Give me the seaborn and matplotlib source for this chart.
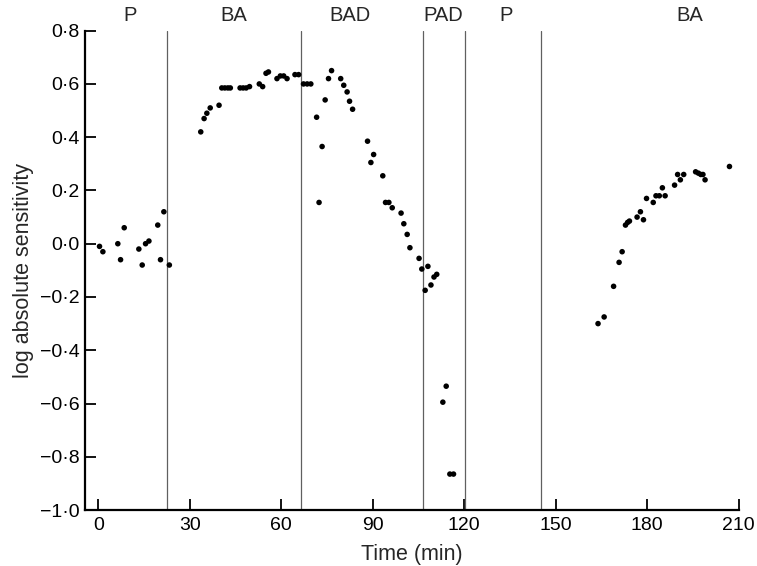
import numpy as np
import pandas as pd
import matplotlib
matplotlib.use("Agg")
import matplotlib.pyplot as plt
from matplotlib.ticker import FuncFormatter
import seaborn as sns

# Data
time_min = [0.4, 1.5, 6.4, 7.3, 8.5, 13.3, 14.4, 15.5, 16.6, 19.5, 20.4, 21.5, 23.3,
            33.6, 34.7, 35.6, 36.7, 39.6, 40.5, 41.5, 42.5, 43.3, 46.5, 47.5, 48.5, 49.6,
            52.8, 53.9, 55.0, 55.8, 58.6, 59.7, 60.8, 61.9, 64.5, 65.7,
            67.3, 68.5, 69.7, 71.6, 72.4, 73.4, 74.4, 75.5, 76.5, 79.5, 80.5, 81.6, 82.4, 83.4,
            88.3, 89.4, 90.3, 93.3, 94.2, 95.3, 96.4, 99.3, 100.2, 101.3, 102.2, 105.2, 106.1,
            107.2, 108.1, 109.1, 110.1, 111.0,
            113.0, 114.1, 115.3, 116.5,
            163.9, 165.9, 169.0, 170.8, 171.8, 172.9, 173.6, 174.2, 176.7, 177.8, 178.8, 179.8,
            182.0, 182.9, 184.0, 185.0, 185.9, 189.0, 190.0, 190.9, 192.0, 195.9, 196.8, 197.6,
            198.3, 199.0, 207.0]
log_sens = [-0.01, -0.03, 0.0, -0.06, 0.06, -0.02, -0.08, 0.0, 0.01, 0.07, -0.06, 0.12, -0.08,
            0.42, 0.47, 0.49, 0.51, 0.52, 0.585, 0.585, 0.585, 0.585, 0.585, 0.585, 0.585, 0.59,
            0.60, 0.59, 0.64, 0.645, 0.62, 0.63, 0.63, 0.62, 0.635, 0.635,
            0.60, 0.60, 0.60, 0.475, 0.155, 0.365, 0.54, 0.62, 0.65, 0.62, 0.595, 0.57, 0.535, 0.505,
            0.385, 0.305, 0.335, 0.255, 0.155, 0.155, 0.135, 0.115, 0.075, 0.035, -0.015, -0.055, -0.095,
            -0.175, -0.085, -0.155, -0.125, -0.115,
            -0.595, -0.535, -0.865, -0.865,
            -0.30, -0.275, -0.16, -0.07, -0.03, 0.07, 0.08, 0.085, 0.10, 0.12, 0.09, 0.17,
            0.155, 0.18, 0.18, 0.21, 0.18, 0.22, 0.26, 0.24, 0.26, 0.27, 0.265, 0.26,
            0.26, 0.24, 0.29]

phase_bounds = [22.4, 66.6, 106.6, 120.4, 145.1]
phase_labels = ["P", "BA", "BAD", "PAD", "P", "BA"]
phase_label_x = [10.4, 44.3, 82.5, 113.2, 133.7, 194.0]

df = pd.DataFrame({"Time (min)": time_min, "log absolute sensitivity": log_sens})

sns.set_style("ticks")
plt.rcParams['font.family'] = ['Liberation Sans', 'DejaVu Sans']

fig = plt.figure(figsize=(7.57, 5.66), dpi=100)
ax = fig.add_axes([0.1127, 0.0989, 0.8630, 0.8469])

for b in phase_bounds:
    ax.axvline(b, color="#606060", lw=0.9, zorder=1)

sns.scatterplot(data=df, x="Time (min)", y="log absolute sensitivity", ax=ax,
                color="black", s=16, edgecolor="none", zorder=3)

for lab, lx in zip(phase_labels, phase_label_x):
    ax.text(lx, 1.032, lab, transform=ax.get_xaxis_transform(), ha="center", va="center",
            fontsize=14.5)

ax.set_xlim(-4.26, 210)
ax.set_ylim(-1.0, 0.8)
ax.set_xticks(np.arange(0, 211, 30))
ax.set_yticks(np.round(np.arange(-1.0, 0.81, 0.2), 1))

def dot_fmt(v, pos):
    s = f"{abs(v):.1f}".replace(".", "\u00b7")
    return ("\u2212" + s) if v < -1e-9 else s

ax.yaxis.set_major_formatter(FuncFormatter(dot_fmt))

ax.tick_params(direction="in", length=8, width=1.3, labelsize=14, colors="black")
ax.tick_params(axis="x", pad=5)
ax.tick_params(axis="y", pad=4)
for side in ["top", "right"]:
    ax.spines[side].set_visible(False)
for side in ["left", "bottom"]:
    ax.spines[side].set_linewidth(1.6)
    ax.spines[side].set_color("black")

ax.set_xlabel("Time (min)", fontsize=15.5, labelpad=7)
ax.set_ylabel("log absolute sensitivity", fontsize=15.5, labelpad=4)

fig.savefig("out.png", dpi=100)
